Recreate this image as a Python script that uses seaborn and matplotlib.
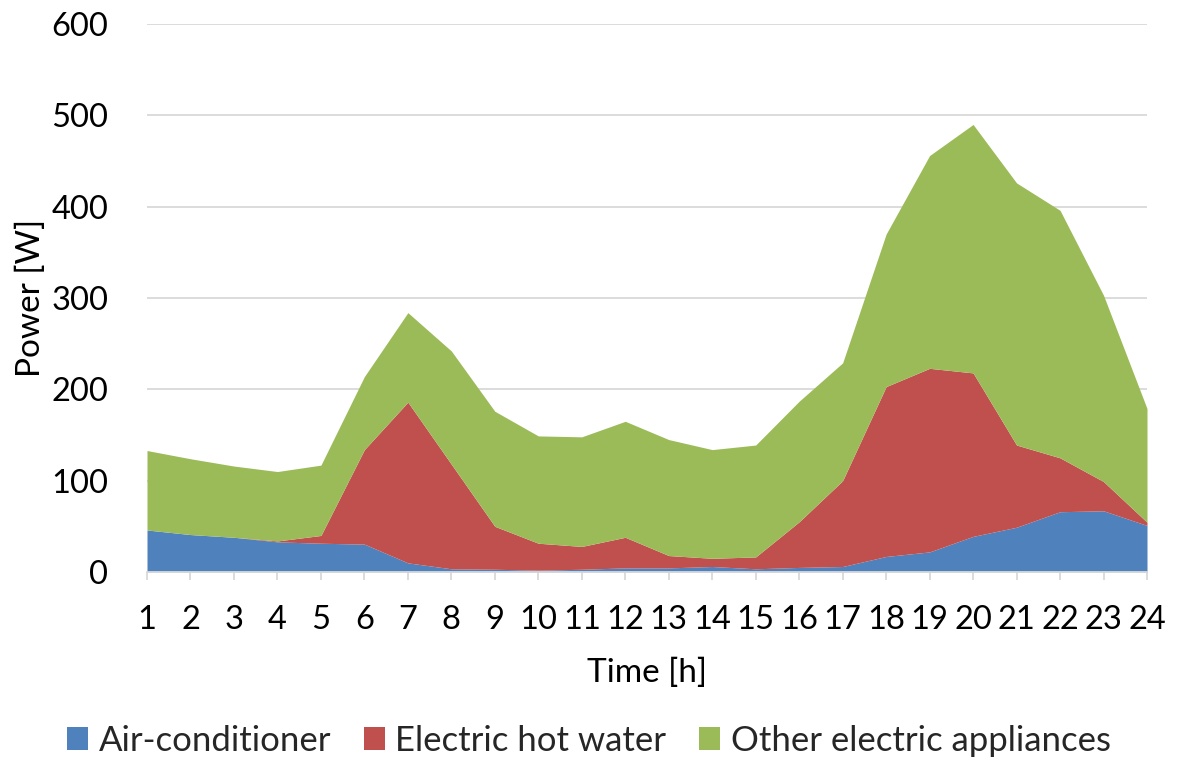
import matplotlib
matplotlib.use("Agg")
import matplotlib.pyplot as plt
from matplotlib.patches import Patch
import numpy as np
import pandas as pd
import seaborn as sns

# Hourly household load profile, stacked by appliance group
hours = list(range(1, 25))
air_conditioner = [46, 41, 38, 33, 31.5, 30.5, 10, 3.5, 3, 2, 3, 4.5,
                   4.5, 6, 3.5, 5, 6, 17, 22, 39, 49, 66, 67, 51]
hot_water = [0, 0, 0, 1, 8.5, 103.5, 176, 114.5, 47, 29.5, 25, 33.5,
             13.5, 9, 13, 50, 94, 186, 201, 179, 90, 59, 32, 3.5]
other_appliances = [87, 83, 78, 76, 77, 80, 98, 124, 126, 117.5, 120, 127,
                    127, 119, 122.5, 132, 129, 167, 233, 272, 287, 271, 204, 124.5]
series_names = ["Air-conditioner", "Electric hot water", "Other electric appliances"]
y_ticks = [0, 100, 200, 300, 400, 500, 600]

df = pd.DataFrame({
    "hour": hours,
    series_names[0]: air_conditioner,
    series_names[1]: hot_water,
    series_names[2]: other_appliances,
})

sns.set_theme(style="white")
plt.rcParams["font.family"] = ["Lato", "DejaVu Sans"]
palette = sns.color_palette(["#4F81BD", "#C0504D", "#9BBB59"])

fig = plt.figure(figsize=(11.78, 7.6), dpi=100)
ax = fig.add_axes([147 / 1178, 188 / 760, 1000 / 1178, 548 / 760])

ax.stackplot(df["hour"], *[df[n] for n in series_names],
             colors=palette, linewidth=0, labels=series_names)

ax.set_xlim(1, 24)
ax.set_ylim(0, 600)
ax.set_xticks(hours)
ax.set_xticklabels([str(h) for h in hours])
ax.set_yticks(y_ticks)
ax.set_yticklabels([str(v) for v in y_ticks])

ax.grid(axis="y", color="#d9d9d9", linewidth=1.3)
ax.set_axisbelow(True)
for side in ["top", "right", "left"]:
    ax.spines[side].set_visible(False)
ax.spines["bottom"].set_color("#d9d9d9")
ax.spines["bottom"].set_linewidth(1.3)
ax.spines["bottom"].set_zorder(5)

ax.tick_params(axis="x", which="major", bottom=True, length=6, width=1.3,
               color="#d9d9d9", direction="out", labelsize=23.5, pad=18,
               labelcolor="black")
ax.tick_params(axis="y", left=False, labelsize=23.5, pad=22, labelcolor="black")

ax.set_xlabel("Time [h]", fontsize=24, color="black", labelpad=16)
ax.set_ylabel("Power [W]", fontsize=24, color="black", labelpad=4)

handles = [Patch(facecolor=c, edgecolor="none") for c in palette]
fig.legend(handles, series_names, loc="center", bbox_to_anchor=(0.5, 1 - 741 / 760),
           ncol=3, frameon=False, fontsize=25, handlelength=0.6, handleheight=0.65,
           handletextpad=0.3, columnspacing=0.95)

fig.savefig("out.png", dpi=100)
